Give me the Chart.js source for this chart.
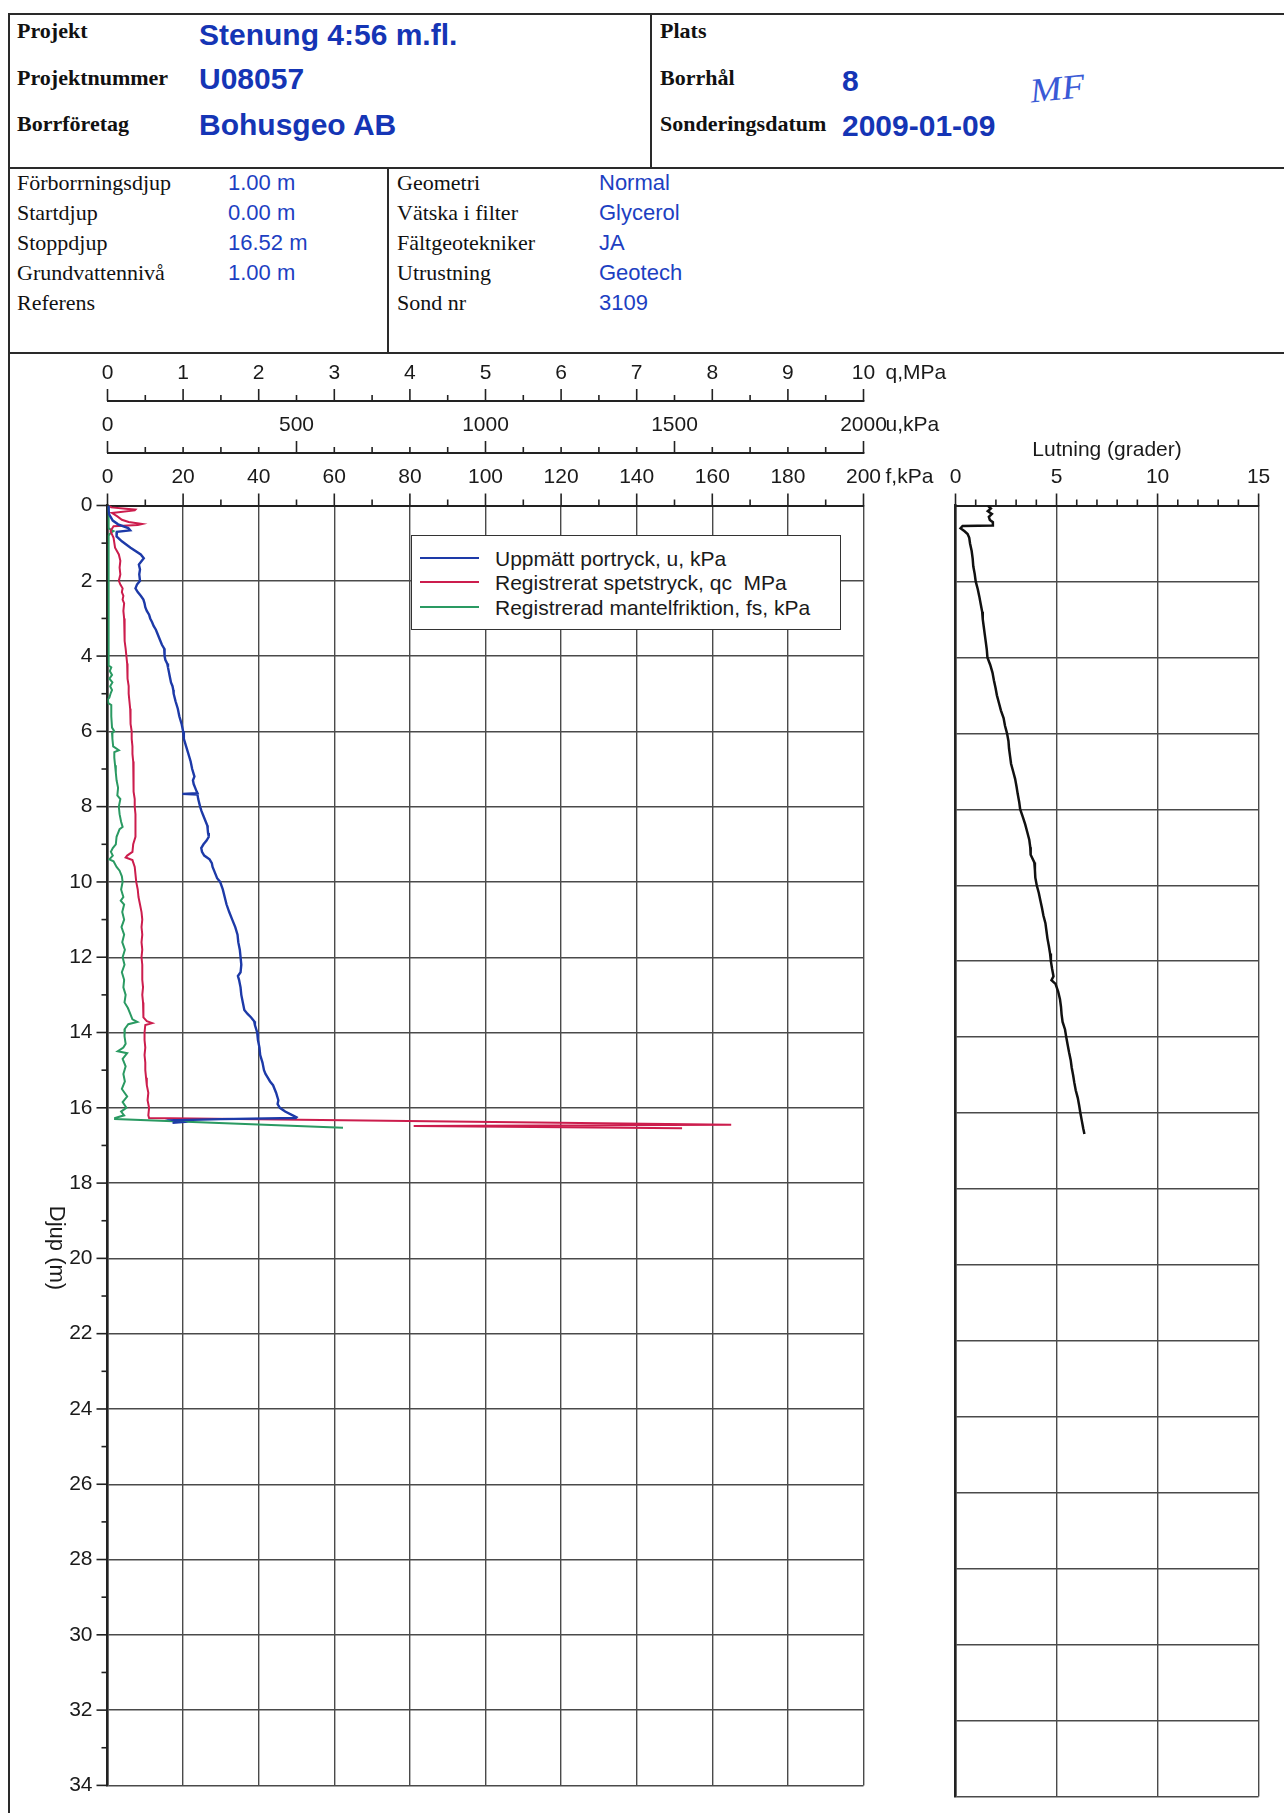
<!DOCTYPE html>
<html>
<head>
<meta charset="utf-8">
<script src="https://cdn.jsdelivr.net/npm/chart.js@4/dist/chart.umd.min.js"></script>
<style>
html,body{margin:0;padding:0;background:#fff;}
body{width:1284px;height:1813px;position:relative;overflow:hidden;}
.ln{position:absolute;background:#2a2a2a;}
.t{position:absolute;transform:translateY(-50%);line-height:1;white-space:nowrap;}
.lb{font-family:"Liberation Serif","Times New Roman",serif;font-weight:bold;font-size:22px;color:#111;}
.lr{font-family:"Liberation Serif","Times New Roman",serif;font-size:22px;color:#111;}
.big{font-family:"Liberation Sans",Arial,sans-serif;font-weight:bold;font-size:30px;color:#1535b5;}
.val{font-family:"Liberation Sans",Arial,sans-serif;font-size:22px;color:#1d3fc2;}
.sig{font-family:"Liberation Serif",serif;font-style:italic;font-size:38px;color:#3a5ad6;transform:translateY(-50%) rotate(-6deg) scaleY(0.9);}
canvas{position:absolute;}
#legend{position:absolute;left:411px;top:535px;width:428px;height:93px;border:1.5px solid #333;background:#fff;z-index:5;}
.lsw{position:absolute;left:8px;width:59px;height:2px;}
.ltx{position:absolute;left:83px;transform:translateY(-50%);font-family:"Liberation Sans",Arial,sans-serif;font-size:21px;color:#1a1a1a;white-space:pre;line-height:1;}
</style>
</head>
<body>
<!-- frame lines -->
<div class="ln" style="left:9px;top:13px;width:1275px;height:2px"></div>
<div class="ln" style="left:8px;top:13px;width:2px;height:1800px"></div>
<div class="ln" style="left:9px;top:167px;width:1275px;height:2px"></div>
<div class="ln" style="left:650px;top:14px;width:2px;height:154px"></div>
<div class="ln" style="left:9px;top:352px;width:1275px;height:2px"></div>
<div class="ln" style="left:387px;top:168px;width:2px;height:185px"></div>

<!-- header -->
<div class="t lb" style="left:17px;top:31px">Projekt</div>
<div class="t lb" style="left:17px;top:78px">Projektnummer</div>
<div class="t lb" style="left:17px;top:124px">Borrföretag</div>
<div class="t big" style="left:199px;top:35px">Stenung 4:56 m.fl.</div>
<div class="t big" style="left:199px;top:79px">U08057</div>
<div class="t big" style="left:199px;top:125px">Bohusgeo AB</div>
<div class="t lb" style="left:660px;top:31px">Plats</div>
<div class="t lb" style="left:660px;top:78px">Borrhål</div>
<div class="t lb" style="left:660px;top:124px">Sonderingsdatum</div>
<div class="t big" style="left:842px;top:81px">8</div>
<div class="t big" style="left:842px;top:126px">2009-01-09</div>
<div class="t sig" style="left:1030px;top:88px">MF</div>

<!-- info -->
<div class="t lr" style="left:17px;top:183px">Förborrningsdjup</div>
<div class="t lr" style="left:17px;top:213px">Startdjup</div>
<div class="t lr" style="left:17px;top:243px">Stoppdjup</div>
<div class="t lr" style="left:17px;top:273px">Grundvattennivå</div>
<div class="t lr" style="left:17px;top:303px">Referens</div>
<div class="t val" style="left:228px;top:183px">1.00 m</div>
<div class="t val" style="left:228px;top:213px">0.00 m</div>
<div class="t val" style="left:228px;top:243px">16.52 m</div>
<div class="t val" style="left:228px;top:273px">1.00 m</div>
<div class="t lr" style="left:397px;top:183px">Geometri</div>
<div class="t lr" style="left:397px;top:213px">Vätska i filter</div>
<div class="t lr" style="left:397px;top:243px">Fältgeotekniker</div>
<div class="t lr" style="left:397px;top:273px">Utrustning</div>
<div class="t lr" style="left:397px;top:303px">Sond nr</div>
<div class="t val" style="left:599px;top:183px">Normal</div>
<div class="t val" style="left:599px;top:213px">Glycerol</div>
<div class="t val" style="left:599px;top:243px">JA</div>
<div class="t val" style="left:599px;top:273px">Geotech</div>
<div class="t val" style="left:599px;top:303px">3109</div>

<canvas id="main" width="1284" height="1460" style="left:0;top:353px;width:1284px;height:1460px;z-index:2"></canvas>
<canvas id="tilt" width="344" height="1460" style="left:940px;top:353px;width:344px;height:1460px;z-index:3"></canvas>
<div id="legend"></div>

<script>
// ---------- DATA ----------
// Uppmätt portryck u (kPa) vs depth (m)
const uDepth = [
  0.00,0.15,0.25,0.40,0.50,0.60,0.66,0.70,0.82,0.95,
  1.12,1.30,1.40,1.57,1.70,1.83,2.00,2.10,2.20,2.30,
  2.40,2.50,2.60,2.70,2.80,2.90,3.00,3.10,3.20,3.30,
  3.40,3.50,3.60,3.70,3.80,3.90,4.00,4.10,4.20,4.30,
  4.40,4.50,4.60,4.70,4.80,4.90,5.00,5.20,5.40,5.60,
  5.80,6.00,6.20,6.40,6.60,6.80,7.00,7.20,7.30,7.40,
  7.50,7.60,7.64,7.66,7.68,7.80,8.00,8.10,8.20,8.30,
  8.40,8.50,8.60,8.70,8.80,8.90,9.00,9.10,9.20,9.30,
  9.40,9.50,9.60,9.70,9.80,9.90,10.00,10.20,10.40,10.60,
  10.80,11.00,11.20,11.40,11.60,11.80,12.00,12.20,12.40,12.50,
  12.60,12.80,13.00,13.20,13.40,13.50,13.60,13.70,13.80,14.00,
  14.20,14.40,14.60,14.80,15.00,15.10,15.20,15.30,15.40,15.50,
  15.60,15.80,15.90,16.00,16.10,16.20,16.25,16.27,16.30,16.33,
  16.38,16.40
];
const uValues = [
  2,3,5,14,28,55,60,25,24,38,
  61,88,96,83,86,84,86,78,74,80,
  88,95,98,100,104,110,113,118,122,128,
  132,136,140,144,150,152,150,153,158,160,
  162,164,166,168,172,174,175,180,186,190,
  196,200,202,208,214,220,224,230,226,228,
  232,236,238,198,238,240,245,248,252,256,
  260,264,265,266,268,262,254,248,250,256,
  270,276,278,282,286,290,298,305,310,315,
  322,330,338,344,346,350,352,354,352,345,
  348,352,354,358,362,370,380,388,390,396,
  398,402,404,410,414,418,424,430,438,442,
  446,452,450,456,470,490,500,498,300,175,
  195,172
];

// Registrerat spetstryck qc (MPa) vs depth (m)
const qDepth = [
  0.00,0.05,0.11,0.13,0.20,0.29,0.38,0.44,0.49,0.52,
  0.55,0.68,0.86,1.12,1.30,1.47,1.65,1.83,2.00,2.10,
  2.20,2.30,2.40,2.50,2.60,2.80,3.00,3.20,3.40,3.60,
  3.80,4.00,4.20,4.40,4.60,4.80,5.00,5.20,5.40,5.60,
  5.80,6.00,6.20,6.40,6.60,6.80,7.00,7.20,7.40,7.60,
  7.80,8.00,8.20,8.40,8.60,8.80,9.00,9.20,9.30,9.35,
  9.42,9.60,9.80,10.00,10.20,10.40,10.60,10.80,11.00,11.20,
  11.40,11.60,11.80,12.00,12.20,12.40,12.60,12.80,13.00,13.20,
  13.40,13.60,13.70,13.75,13.80,14.00,14.20,14.40,14.60,14.80,
  15.00,15.20,15.40,15.60,15.80,16.00,16.20,16.27,16.45,16.48,
  16.54
];
const qValues = [
  0.02,0.05,0.37,0.36,0.06,0.13,0.19,0.28,0.46,0.40,
  0.08,0.04,0.08,0.10,0.15,0.17,0.16,0.17,0.15,0.17,
  0.20,0.19,0.21,0.20,0.22,0.21,0.22,0.23,0.22,0.23,
  0.24,0.25,0.26,0.26,0.27,0.28,0.28,0.29,0.30,0.30,
  0.31,0.32,0.32,0.33,0.33,0.34,0.34,0.34,0.35,0.35,
  0.36,0.36,0.37,0.37,0.37,0.37,0.34,0.33,0.26,0.24,
  0.33,0.36,0.37,0.38,0.40,0.41,0.43,0.45,0.46,0.45,
  0.46,0.45,0.46,0.45,0.46,0.46,0.46,0.47,0.46,0.47,
  0.47,0.48,0.52,0.59,0.50,0.49,0.49,0.50,0.49,0.50,
  0.50,0.51,0.52,0.54,0.53,0.55,0.54,0.55,8.25,4.05,
  7.60
];

// Registrerad mantelfriktion fs (kPa) vs depth (m)
const fDepth = [
  0.00,0.60,0.64,0.68,0.73,0.80,4.25,4.30,4.40,4.50,
  4.60,4.70,4.80,4.90,5.00,5.10,5.15,5.25,5.30,5.60,
  5.90,6.00,6.05,6.20,6.40,6.50,6.55,6.70,6.90,7.10,
  7.30,7.50,7.70,7.80,8.00,8.20,8.40,8.54,8.60,8.80,
  9.00,9.10,9.20,9.30,9.40,9.45,9.60,9.70,9.85,10.00,
  10.20,10.40,10.50,10.60,10.80,11.00,11.20,11.40,11.60,11.80,
  12.00,12.20,12.40,12.60,12.80,13.00,13.20,13.35,13.50,13.65,
  13.72,13.78,13.90,14.10,14.30,14.40,14.50,14.55,14.70,14.90,
  15.10,15.30,15.50,15.70,15.85,16.00,16.10,16.20,16.27,16.30,
  16.53
];
const fValues = [
  0.2,0.3,0.8,1.6,0.8,0.3,0.3,1.0,0.6,1.2,
  0.5,1.3,0.7,1.2,0.8,0.5,0.1,0.2,1.0,1.0,
  1.2,1.8,1.2,1.3,1.5,3.0,1.8,1.8,2.0,2.2,
  2.4,2.8,2.6,3.4,3.0,3.2,3.6,4.0,3.2,2.4,
  2.2,1.4,0.9,1.4,0.5,1.6,2.4,3.2,3.8,4.0,
  3.6,4.2,3.5,4.4,3.9,4.4,3.7,4.4,3.9,4.6,
  4.0,4.5,3.8,4.4,4.2,4.8,4.5,5.4,6.0,6.6,
  7.9,5.5,4.6,4.5,4.8,4.2,2.7,5.2,4.0,4.8,
  4.2,4.6,3.8,5.2,4.0,5.0,3.6,4.4,2.0,2.0,
  62.3
];

// Lutning (grader) vs depth (m)
const lutDepth = [
  0.00,0.08,0.15,0.22,0.30,0.38,0.44,0.53,0.54,0.60,
  0.68,0.75,0.85,1.00,1.20,1.40,1.60,1.80,2.00,2.20,
  2.40,2.60,2.80,3.00,3.20,3.40,3.60,3.80,4.00,4.20,
  4.40,4.60,4.80,5.00,5.20,5.40,5.60,5.80,6.00,6.20,
  6.40,6.60,6.80,7.00,7.20,7.40,7.60,7.80,8.00,8.20,
  8.40,8.60,8.80,9.00,9.20,9.40,9.60,9.80,10.00,10.20,
  10.40,10.60,10.80,11.00,11.20,11.40,11.60,11.80,12.00,12.20,
  12.40,12.50,12.60,12.80,13.00,13.20,13.40,13.60,13.80,14.00,
  14.20,14.40,14.60,14.80,15.00,15.20,15.40,15.60,15.80,16.00,
  16.20,16.40,16.55
];
const lutValues = [
  1.60,1.75,1.60,1.80,1.65,1.70,1.85,1.85,0.35,0.25,
  0.45,0.60,0.68,0.72,0.80,0.85,0.88,0.95,1.00,1.10,
  1.18,1.25,1.32,1.35,1.40,1.45,1.50,1.55,1.58,1.72,
  1.83,1.90,1.98,2.05,2.15,2.25,2.38,2.45,2.55,2.62,
  2.65,2.70,2.75,2.85,2.95,3.02,3.08,3.15,3.20,3.33,
  3.45,3.55,3.65,3.70,3.72,3.90,3.93,3.95,4.02,4.12,
  4.20,4.28,4.35,4.45,4.50,4.55,4.62,4.68,4.72,4.78,
  4.85,4.75,4.95,5.08,5.17,5.22,5.25,5.30,5.42,5.48,
  5.55,5.62,5.70,5.75,5.82,5.88,5.95,6.05,6.12,6.18,
  6.25,6.32,6.38
];

const seriesLabels = [
  'Uppmätt portryck, u, kPa',
  'Registrerat spetstryck, qc  MPa',
  'Registrerad mantelfriktion, fs, kPa'
];
const seriesColors = ['#1d3aa8', '#cc1d4d', '#2a9a62'];
const qTickStep = 1, uTickStep = 500, fTickStep = 20, depthTickStep = 2, lutTickStep = 5;
const unitLabels = { xq: 'q,MPa', xu: 'u,kPa', x: 'f,kPa' };

// ---------- HELPERS ----------
const FONT = '"Liberation Sans", Arial, sans-serif';
const PAGE_TOP = 353;
function pairs(d, v) {
  const n = Math.min(d.length, v.length), out = [];
  for (let i = 0; i < n; i++) out.push({ x: v[i], y: d[i] });
  return out;
}
const GRID = '#4a4a4a';
const AXIS = '#222';
const tickFont = { family: FONT, size: 21 };
const plainNum = v => String(v);

const topAxisDefs = [
  { id: 'xq', major: 1, minor: 0.5 },
  { id: 'xu', major: 500, minor: 100 },
  { id: 'x',  major: 20, minor: 10 }
];

const mainDecor = {
  id: 'mainDecor',
  afterDraw(chart) {
    const ctx = chart.ctx;
    ctx.save();
    ctx.strokeStyle = AXIS;
    ctx.lineWidth = 1.6;
    topAxisDefs.forEach(def => {
      const s = chart.scales[def.id];
      const yb = s.bottom;
      const n = Math.round((s.max - s.min) / def.minor);
      for (let i = 0; i <= n; i++) {
        const v = s.min + i * def.minor;
        const major = Math.abs(v / def.major - Math.round(v / def.major)) < 1e-6;
        const px = s.getPixelForValue(v);
        ctx.beginPath();
        ctx.moveTo(px, yb);
        ctx.lineTo(px, yb - (major ? 12 : 6));
        ctx.stroke();
      }
      ctx.fillStyle = '#1a1a1a';
      ctx.font = '21px ' + FONT;
      ctx.textAlign = 'left';
      ctx.textBaseline = 'middle';
      ctx.fillText(unitLabels[def.id], s.right + 22, yb - 28);
    });
    const y = chart.scales.y;
    for (let d = y.min; d <= y.max; d++) {
      const py = y.getPixelForValue(d);
      const len = d % 2 === 0 ? 11 : 6;
      ctx.beginPath();
      ctx.moveTo(y.right - len, py);
      ctx.lineTo(y.right, py);
      ctx.stroke();
    }
    ctx.translate(56, 1248 - PAGE_TOP);
    ctx.rotate(Math.PI / 2);
    ctx.fillStyle = '#1a1a1a';
    ctx.textAlign = 'center';
    ctx.textBaseline = 'middle';
    ctx.font = '22px ' + FONT;
    ctx.fillText('Djup (m)', 0, 0);
    ctx.restore();
  }
};

const tiltDecor = {
  id: 'tiltDecor',
  afterDraw(chart) {
    const ctx = chart.ctx;
    const s = chart.scales.x;
    ctx.save();
    ctx.strokeStyle = AXIS;
    ctx.lineWidth = 1.6;
    for (let v = s.min; v <= s.max; v++) {
      const px = s.getPixelForValue(v);
      ctx.beginPath();
      ctx.moveTo(px, s.bottom);
      ctx.lineTo(px, s.bottom - (v % 5 === 0 ? 12 : 6));
      ctx.stroke();
    }
    ctx.restore();
  }
};

// Label offset = invisible tick length (12.4) + small padding (3) so that
// Chart.js does not reserve extra horizontal room for the end labels.
function topAxis(min, max, step, h, weight, onArea) {
  return {
    type: 'linear', position: 'top', min, max, weight,
    ticks: { stepSize: step, padding: 3, font: tickFont, color: '#1a1a1a', autoSkip: false, maxRotation: 0, callback: plainNum },
    grid: { drawTicks: true, tickLength: 12.4, tickColor: 'rgba(0,0,0,0)', drawOnChartArea: onArea, color: GRID, lineWidth: 1.4 },
    border: { display: true, color: AXIS, width: 2 },
    afterFit: s => { s.height = h; }
  };
}

const mainDatasets = [
  { label: seriesLabels[0], data: pairs(uDepth, uValues), xAxisID: 'xu', borderColor: seriesColors[0], borderWidth: 2.4 },
  { label: seriesLabels[1], data: pairs(qDepth, qValues), xAxisID: 'xq', borderColor: seriesColors[1], borderWidth: 2 },
  { label: seriesLabels[2], data: pairs(fDepth, fValues), xAxisID: 'x',  borderColor: seriesColors[2], borderWidth: 2 }
].map(d => Object.assign(d, { yAxisID: 'y', showLine: true, pointRadius: 0, tension: 0, fill: false, backgroundColor: d.borderColor }));

new Chart(document.getElementById('main'), {
  type: 'scatter',
  data: { datasets: mainDatasets },
  options: {
    responsive: false, animation: false, devicePixelRatio: 1, events: [],
    layout: { padding: { left: 0, top: 0, right: 1284 - 863.5, bottom: 16.5 } },
    plugins: { legend: { display: false }, tooltip: { enabled: false } },
    scales: {
      x:  topAxis(0, 200, fTickStep, 52.5, 0, true),
      xu: topAxis(0, 2000, uTickStep, 52, 1, false),
      xq: topAxis(0, 10, qTickStep, 48, 2, false),
      y: {
        type: 'linear', position: 'left', reverse: true, min: 0, max: 34,
        ticks: { stepSize: depthTickStep, padding: 15, font: tickFont, color: '#1a1a1a', callback: plainNum },
        grid: { drawTicks: false, color: GRID, lineWidth: 1.4 },
        border: { display: true, color: AXIS, width: 2.5 },
        afterFit: s => { s.width = 107.5; }
      }
    }
  },
  plugins: [mainDecor]
});

new Chart(document.getElementById('tilt'), {
  type: 'scatter',
  data: { datasets: [{
    label: 'Lutning (grader)', data: pairs(lutDepth, lutValues),
    showLine: true, pointRadius: 0, borderColor: '#111', backgroundColor: '#111', borderWidth: 2.5, tension: 0
  }] },
  options: {
    responsive: false, animation: false, devicePixelRatio: 1, events: [],
    layout: { padding: { left: 0, top: 0, right: 344 - 318.6, bottom: 16.5 } },
    plugins: { legend: { display: false }, tooltip: { enabled: false } },
    scales: {
      x: {
        type: 'linear', position: 'top', min: 0, max: 15,
        ticks: { stepSize: lutTickStep, padding: 3, font: tickFont, color: '#1a1a1a', autoSkip: false, maxRotation: 0, callback: plainNum },
        grid: { drawTicks: true, tickLength: 12.4, tickColor: 'rgba(0,0,0,0)', color: GRID, lineWidth: 1.4 },
        border: { display: true, color: AXIS, width: 2 },
        title: { display: true, text: 'Lutning (grader)', font: { family: FONT, size: 21 }, color: '#1a1a1a', padding: { top: 84.4, bottom: 0 } },
        afterFit: s => { s.height = 152.5; }
      },
      y: {
        type: 'linear', position: 'left', reverse: true, min: 0, max: 34,
        ticks: { display: false, stepSize: depthTickStep },
        grid: { drawTicks: false, color: GRID, lineWidth: 1.4 },
        border: { display: true, color: AXIS, width: 2.5 },
        afterFit: s => { s.width = 15.5; }
      }
    }
  },
  plugins: [tiltDecor]
});

// HTML legend built from the datasets
const legend = document.getElementById('legend');
const rowCenters = [22, 46, 71];
mainDatasets.forEach((ds, i) => {
  const sw = document.createElement('div');
  sw.className = 'lsw';
  sw.style.top = (rowCenters[i] - 1) + 'px';
  sw.style.background = ds.borderColor;
  legend.appendChild(sw);
  const tx = document.createElement('div');
  tx.className = 'ltx';
  tx.style.top = rowCenters[i] + 'px';
  tx.textContent = ds.label;
  legend.appendChild(tx);
});
</script>
</body>
</html>
